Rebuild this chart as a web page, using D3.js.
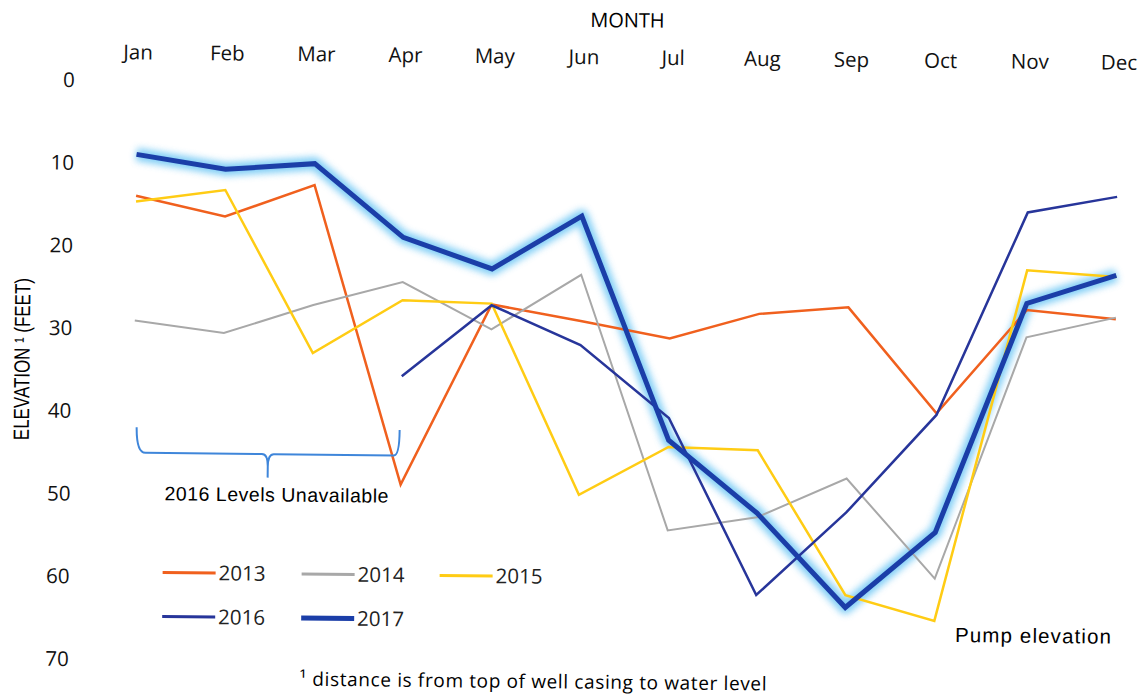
<!DOCTYPE html>
<html>
<head>
<meta charset="utf-8">
<script src="https://cdn.jsdelivr.net/npm/d3@7"></script>
<style>
  body { margin: 0; background: #fff; }
  svg { display: block; }
  .tick text { font-family: "Open Sans", sans-serif; font-size: 20.5px; fill: #111; }
</style>
</head>
<body>
<svg id="chart" width="1139" height="698"></svg>
<script>
// months along the top
var months = ["Jan", "Feb", "Mar", "Apr", "May", "Jun", "Jul", "Aug", "Sep", "Oct", "Nov", "Dec"];
var yTicks = [0, 10, 20, 30, 40, 50, 60, 70];

// depth to water (feet) per month
var years = ["2013", "2014", "2015", "2016", "2017"];
var y2013 = [13.9, 16.3, 12.4, 48.5, 26.6, 28.5, 30.5, 27.4, 26.5, 39.2, 26.6, 27.6];
var y2014 = [29.0, 30.4, 26.9, 24.0, 29.6, 22.9, 53.7, 52.0, 47.2, 59.2, 29.9, 27.4];
var y2015 = [14.6, 13.1, 32.7, 26.2, 26.5, 49.5, 43.6, 43.9, 61.3, 64.3, 21.8, 22.5];
var y2016 = [null, null, null, 35.4, 26.7, 31.4, 40.1, 61.4, 51.3, 39.4, 14.8, 12.8];
var y2017 = [8.9, 10.6, 9.8, 18.6, 22.3, 15.8, 42.8, 51.5, 62.8, 53.6, 25.8, 22.3];

var series = [y2013, y2014, y2015, y2016, y2017];
var colors = ["#F0601E", "#A8A8A8", "#FFCC14", "#27359A", "#1B3EA8"];
var widths = [2.5, 2, 2.5, 2.5, 5];

var svg = d3.select("#chart");

// glow for the 2017 line
var defs = svg.append("defs");
defs.append("filter").attr("id", "glow")
	.attr("x", "-10%").attr("y", "-10%").attr("width", "120%").attr("height", "120%")
	.append("feGaussianBlur").attr("stdDeviation", 3.5);

// the scan is tilted a little, so the whole chart is too
var g = svg.append("g").attr("transform", "rotate(0.6, 590, 350)");

var x = d3.scalePoint().domain(months).range([134.5, 1115.5]);
var y = d3.scaleLinear().domain([0, 70]).range([85.5, 664.4]);

// month labels on top
var xAxis = g.append("g")
	.attr("transform", "translate(0,57)")
	.call(d3.axisTop(x).tickSize(0).tickPadding(0));
xAxis.select(".domain").remove();
xAxis.selectAll("text").attr("dy", "0.35em");

var yAxis = g.append("g")
	.attr("transform", "translate(72,0)")
	.call(d3.axisLeft(y).tickValues(yTicks).tickSize(0).tickPadding(0));
yAxis.select(".domain").remove();

g.append("text")
	.attr("x", 624).attr("y", 20)
	.attr("dy", "0.35em")
	.attr("text-anchor", "middle")
	.style("font-family", "'Open Sans', sans-serif")
	.style("font-size", "20px")
	.text("MONTH");

// narrow, tall axis title like the scan
g.append("text")
	.attr("transform", "translate(22,365) rotate(-90)")
	.attr("x", -81)
	.attr("dy", "0.35em")
	.attr("textLength", 162)
	.attr("lengthAdjust", "spacingAndGlyphs")
	.style("font-family", "'Liberation Sans', Arial, sans-serif")
	.style("font-size", "22px")
	.text("ELEVATION \u00B9 (FEET)");

// lines
var line = d3.line()
	.defined(function(d) { return d != null; })
	.x(function(d, i) { return x(months[i]); })
	.y(function(d) { return y(d); });

g.append("path")
	.datum(y2017)
	.attr("d", line)
	.attr("fill", "none")
	.attr("stroke", "#6CC6F4")
	.attr("stroke-width", 13)
	.attr("stroke-linejoin", "round")
	.attr("opacity", 0.85)
	.attr("filter", "url(#glow)");

for (var s = 0; s < series.length; s++) {
	g.append("path")
		.datum(series[s])
		.attr("d", line)
		.attr("fill", "none")
		.attr("stroke", colors[s])
		.attr("stroke-width", widths[s])
		.attr("stroke-linejoin", "miter");
}

// bracket for the missing 2016 months
var brace = d3.path();
brace.moveTo(x("Jan") + 3, 432);
brace.quadraticCurveTo(x("Jan") + 3, 457.5, x("Jan") + 12, 457.5);
brace.lineTo(263, 457.5);
brace.quadraticCurveTo(269, 457.5, 269, 470);
brace.lineTo(269, 481);
brace.moveTo(269, 470);
brace.quadraticCurveTo(269, 457.5, 275, 457.5);
brace.lineTo(395, 457.5);
brace.quadraticCurveTo(400.5, 457.5, 400.5, 432);
g.append("path")
	.attr("d", brace.toString())
	.attr("fill", "none")
	.attr("stroke", "#3F86DA")
	.attr("stroke-width", 2);

g.append("text")
	.attr("x", 166).attr("y", 498)
	.attr("dy", "0.35em")
	.attr("textLength", 224)
	.style("font-family", "'Liberation Sans', Arial, sans-serif")
	.style("font-size", "19.5px")
	.text("2016 Levels Unavailable");

g.append("text")
	.attr("x", 958).attr("y", 631)
	.attr("dy", "0.35em")
	.attr("textLength", 156)
	.style("font-family", "'Liberation Sans', Arial, sans-serif")
	.style("font-size", "20.5px")
	.text("Pump elevation");

g.append("text")
	.attr("x", 303).attr("y", 682)
	.attr("dy", "0.35em")
	.attr("textLength", 467)
	.style("font-family", "'Open Sans', sans-serif")
	.style("font-size", "19px")
	.text("\u00B9 distance is from top of well casing to water level");

// legend, two rows
var legendX = [165, 304, 442];
var legendY = [577, 621];
var legend = g.selectAll(".legend")
	.data(years)
	.enter()
	.append("g")
	.attr("class", "legend")
	.attr("transform", function(d, i) {
		return "translate(" + legendX[i % 3] + "," + legendY[Math.floor(i / 3)] + ")";
	});
legend.append("line")
	.attr("x1", 0).attr("x2", 53)
	.attr("stroke", function(d, i) { return colors[i]; })
	.attr("stroke-width", function(d, i) { return i == 4 ? 5 : 3; });
legend.append("text")
	.attr("x", 56)
	.attr("dy", "0.35em")
	.style("font-family", "'Open Sans', sans-serif")
	.style("font-size", "20.5px")
	.style("fill", "#222")
	.text(function(d) { return d; });
</script>
</body>
</html>
